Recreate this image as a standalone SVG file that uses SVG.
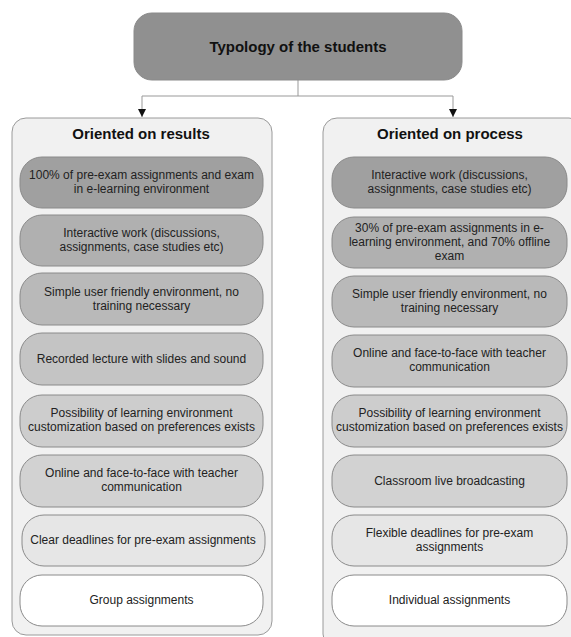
<svg xmlns="http://www.w3.org/2000/svg" width="571" height="637" viewBox="0 0 571 637">
<defs>
<marker id="arr" viewBox="0 0 10 10" refX="10" refY="5" markerWidth="8" markerHeight="8" markerUnits="userSpaceOnUse" orient="auto">
<path d="M0,0 L10,5 L0,10 z" fill="#111"/>
</marker>
</defs>
<style>
text{font-family:"Liberation Sans",Arial,sans-serif;fill:#222;text-anchor:middle}
.t{font-size:12px}
.h{font-size:15px;font-weight:bold;fill:#111}
.box{stroke:#8a8a8a;stroke-width:1}
.cont{fill:#f1f1f1;stroke:#9a9a9a;stroke-width:1}
.c1{fill:#a0a0a0}.c2{fill:#b0b0b0}.c3{fill:#b9b9b9}.c4{fill:#c4c4c4}.c5{fill:#cdcdcd}.c6{fill:#d2d2d2}.c7{fill:#e6e6e6}.c8{fill:#ffffff}
</style>
<rect width="571" height="637" fill="#ffffff"/>
<g id="connectors" fill="none" stroke="#999" stroke-width="1">
<path d="M298,80 V96"/>
<path d="M298,96 H142 V117" marker-end="url(#arr)"/>
<path d="M298,96 H453 V117" marker-end="url(#arr)"/>
</g>
<g id="root">
<rect class="box" x="134" y="13" width="328" height="67" rx="18" fill="#909090"/>
<text class="h" x="298" y="52">Typology of the students</text>
</g>
<g id="results">
<rect class="cont" x="12" y="118" width="260" height="517" rx="14"/>
<text class="h" x="141" y="139">Oriented on results</text>
</g>
<g id="process">
<rect class="cont" x="323" y="118" width="260" height="530" rx="14"/>
<text class="h" x="450" y="139">Oriented on process</text>
</g>
<g id="r1"><rect class="box c1" x="20" y="157" width="243" height="51" rx="22"/><text class="t" x="141.5" y="179">100% of pre-exam assignments and exam</text><text class="t" x="141.5" y="193">in e-learning environment</text></g>
<g id="r2"><rect class="box c2" x="20" y="215" width="243" height="51" rx="22"/><text class="t" x="141.5" y="237">Interactive work (discussions,</text><text class="t" x="141.5" y="251">assignments, case studies etc)</text></g>
<g id="r3"><rect class="box c3" x="20" y="273" width="243" height="52" rx="22"/><text class="t" x="141.5" y="296">Simple user friendly environment, no</text><text class="t" x="141.5" y="310">training necessary</text></g>
<g id="r4"><rect class="box c4" x="20" y="333" width="243" height="52" rx="22"/><text class="t" x="141.5" y="363">Recorded lecture with slides and sound</text></g>
<g id="r5"><rect class="box c5" x="20" y="395" width="243" height="52" rx="22"/><text class="t" x="141.5" y="417">Possibility of learning environment</text><text class="t" x="141.5" y="431">customization based on preferences exists</text></g>
<g id="r6"><rect class="box c6" x="20" y="455" width="243" height="52" rx="22"/><text class="t" x="141.5" y="477">Online and face-to-face with teacher</text><text class="t" x="141.5" y="491">communication</text></g>
<g id="r7"><rect class="box c7" x="22" y="515" width="243" height="51" rx="22"/><text class="t" x="143" y="544">Clear deadlines for pre-exam assignments</text></g>
<g id="r8"><rect class="box c8" x="20" y="575" width="243" height="51" rx="22"/><text class="t" x="141.5" y="604">Group assignments</text></g>
<g id="p1"><rect class="box c1" x="332" y="157" width="235" height="51" rx="22"/><text class="t" x="449.5" y="179">Interactive work (discussions,</text><text class="t" x="449.5" y="193">assignments, case studies etc)</text></g>
<g id="p2"><rect class="box c2" x="332" y="217" width="235" height="51" rx="22"/><text class="t" x="449.5" y="232">30% of pre-exam assignments in e-</text><text class="t" x="449.5" y="246">learning environment, and 70% offline</text><text class="t" x="449.5" y="260">exam</text></g>
<g id="p3"><rect class="box c3" x="332" y="276" width="235" height="51" rx="22"/><text class="t" x="449.5" y="298">Simple user friendly environment, no</text><text class="t" x="449.5" y="312">training necessary</text></g>
<g id="p4"><rect class="box c4" x="332" y="335" width="235" height="52" rx="22"/><text class="t" x="449.5" y="357">Online and face-to-face with teacher</text><text class="t" x="449.5" y="371">communication</text></g>
<g id="p5"><rect class="box c5" x="332" y="395" width="235" height="52" rx="22"/><text class="t" x="449.5" y="417">Possibility of learning environment</text><text class="t" x="449.5" y="431">customization based on preferences exists</text></g>
<g id="p6"><rect class="box c6" x="332" y="455" width="235" height="52" rx="22"/><text class="t" x="449.5" y="485">Classroom live broadcasting</text></g>
<g id="p7"><rect class="box c7" x="332" y="515" width="235" height="51" rx="22"/><text class="t" x="449.5" y="537">Flexible deadlines for pre-exam</text><text class="t" x="449.5" y="551">assignments</text></g>
<g id="p8"><rect class="box c8" x="332" y="575" width="235" height="51" rx="22"/><text class="t" x="449.5" y="604">Individual assignments</text></g>
</svg>
